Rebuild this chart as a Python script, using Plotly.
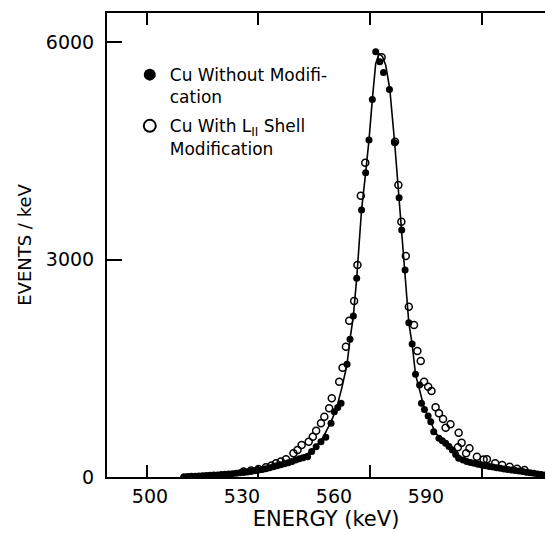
import plotly.graph_objects as go

# ---- data ----
fill_E = [510, 511, 512, 513, 514, 515, 516, 517, 518, 519, 520, 521, 522, 523, 524, 525, 526, 527, 528, 529,
          530, 531, 532, 533, 534, 535, 536, 537, 538, 539, 540, 541, 542, 543.2, 544.3, 545.5, 546.8, 548.1,
          549.5, 550.4, 551.3, 552.2, 553.8, 554.6, 555.5, 556.4, 557.7, 558.8, 559.7, 560.6, 561.5, 562.6,
          563.6, 565.2, 566.6, 567.8, 568.5, 569.4, 570.4, 571.3, 572.2, 573.3, 573.8, 574.6, 575.6, 576.3,
          577.1, 578.5, 579.4, 580.3, 581.2, 582.1, 583.0, 583.8, 585, 586, 587, 588, 589, 590, 591, 592, 593,
          594, 595, 596, 597, 598, 599, 600, 601, 602, 603, 604, 605, 606, 607]
fill_N = [5, 8, 10, 12, 14, 17, 20, 23, 26, 29, 33, 37, 41, 46, 52, 58, 64, 70, 78, 86,
          95, 105, 115, 127, 140, 155, 168, 182, 198, 215, 235, 250, 265, 280, 350, 418, 487, 547,
          741, 900, 960, 1016, 1554, 1899, 2220, 2740, 3682, 4196, 4647, 5208, 5865, 5727,
          5581, 5346, 4610, 3852, 3406, 2855, 2128, 1834, 1416, 1269, 1016, 930, 841, 763,
          625, 534, 500, 465, 420, 372, 310, 258, 235, 215, 200, 188, 175, 165, 155, 145, 137,
          128, 120, 112, 105, 97, 90, 82, 75, 67, 58, 50, 42, 35, 28]

open_E = [526, 528, 530, 532, 533.5, 534.7, 536, 537.4, 539.4, 540.5, 541.6, 543.5, 544.6, 545.5, 546.8,
          547.7, 549.0, 549.7, 551.7, 552.6, 553.5, 554.4, 555.7, 556.6, 557.5, 558.7, 563.1, 566.7,
          567.6, 568.4, 569.6, 570.4, 571.8, 572.7, 573.6, 574.5, 575.6, 576.5, 577.6, 578.5, 579.6,
          580.3, 581.6, 583.8, 584.6, 583.6, 585.8, 586.7, 588.7, 590.5, 591.4, 593.6, 595.5, 597.5,
          599.5, 601.5]
open_N = [75, 90, 110, 135, 160, 189, 215, 244, 327, 372, 441, 487, 556, 639, 741,
          832, 947, 1085, 1314, 1507, 1797, 2155, 2427, 2924, 3880, 4334, 5788, 4624,
          4027, 3521, 3048, 2349, 2096, 1738, 1600, 1314, 1245, 1186, 961, 878, 800,
          680, 726, 611, 473, 410, 327, 396, 280, 240, 244, 189, 165, 140,
          115, 95]

fit_E = [509, 515, 520, 525, 530, 535, 538, 541, 543.5, 545.5, 547.5, 549.5, 551, 552.5, 553.8, 554.6,
         555.5, 556.4, 557.7, 558.8, 559.7, 560.6, 561.5, 562.4, 563.3, 564.2, 565.3, 566.6, 567.8, 568.5,
         569.4, 570.4, 571.3, 572.2, 573.3, 574.5, 576, 577.5, 579.5, 582, 584.5, 588, 592, 596, 600, 604, 607]
fit_N = [5, 20, 35, 60, 100, 160, 210, 275, 330, 420, 560, 760, 950, 1250, 1554, 1899,
         2220, 2740, 3682, 4196, 4647, 5208, 5700, 5840, 5800, 5680, 5346, 4610, 3852, 3406,
         2855, 2128, 1834, 1416, 1200, 960, 790, 620, 480, 360, 260, 200, 150, 110, 75, 48, 28]

x_tick_vals = [500, 530, 560, 590]
x_tick_text = ["500", "530", "560", "590"]
y_tick_vals = [0, 3000, 6000]
y_tick_text = ["0", "3000", "6000"]

FONT = "DejaVu Sans"

fig = go.Figure()
fig.add_trace(go.Scatter(x=fit_E, y=fit_N, mode="lines", line=dict(color="black", width=1.6),
                         showlegend=False, hoverinfo="skip"))
fig.add_trace(go.Scatter(x=open_E, y=open_N, mode="markers",
                         name="Cu With L<sub>II</sub> Shell<br>Modification",
                         marker=dict(symbol="circle-open", color="black", size=7, line=dict(width=1.5)),
                         legendrank=2, legendgroup="b"))
fig.add_trace(go.Scatter(x=fill_E, y=fill_N, mode="markers",
                         name="Cu Without Modifi-<br>cation",
                         marker=dict(symbol="circle", color="black", size=7),
                         legendrank=1, legendgroup="a"))
# label-only axis (labels in the reference are offset from the tick marks)
fig.add_trace(go.Scatter(x=[None], y=[None], xaxis="x2", showlegend=False, hoverinfo="skip"))

fig.update_layout(
    width=545, height=533,
    margin=dict(l=107, r=0, t=13, b=56),
    paper_bgcolor="white", plot_bgcolor="white",
    font=dict(family=FONT, color="black", size=17),
    showlegend=True,
    legend=dict(x=0.052, y=0.905, xanchor="left", yanchor="top", bgcolor="rgba(0,0,0,0)",
                font=dict(size=17, family=FONT), itemsizing="constant", valign="top",
                traceorder="grouped", tracegroupgap=4),
    xaxis=dict(range=[489.3, 607], tickmode="array", tickvals=x_tick_vals, showticklabels=False,
               ticks="inside", ticklen=12, tickwidth=1.5, tickcolor="black",
               showline=True, linecolor="black", linewidth=2, mirror="ticks",
               showgrid=False, zeroline=False),
    xaxis2=dict(overlaying="x", anchor="y", side="bottom", range=[486.0, 628.8],
                tickmode="array", tickvals=x_tick_vals, ticktext=x_tick_text,
                ticks="", showline=False, showgrid=False, zeroline=False,
                tickfont=dict(size=19, family=FONT), ticklabelstandoff=6,
                title=dict(text="ENERGY (keV)", font=dict(size=21, family=FONT), standoff=4)),
    yaxis=dict(range=[0, 6400], tickmode="array", tickvals=y_tick_vals, ticktext=y_tick_text,
               ticks="inside", ticklen=15, tickwidth=1.5, tickcolor="black",
               showline=True, linecolor="black", linewidth=2,
               showgrid=False, zeroline=False, tickfont=dict(size=19, family=FONT),
               ticklabelstandoff=7,
               title=dict(text="EVENTS / keV", font=dict(size=18, family=FONT), standoff=10)),
)

fig.write_html("out.html")
